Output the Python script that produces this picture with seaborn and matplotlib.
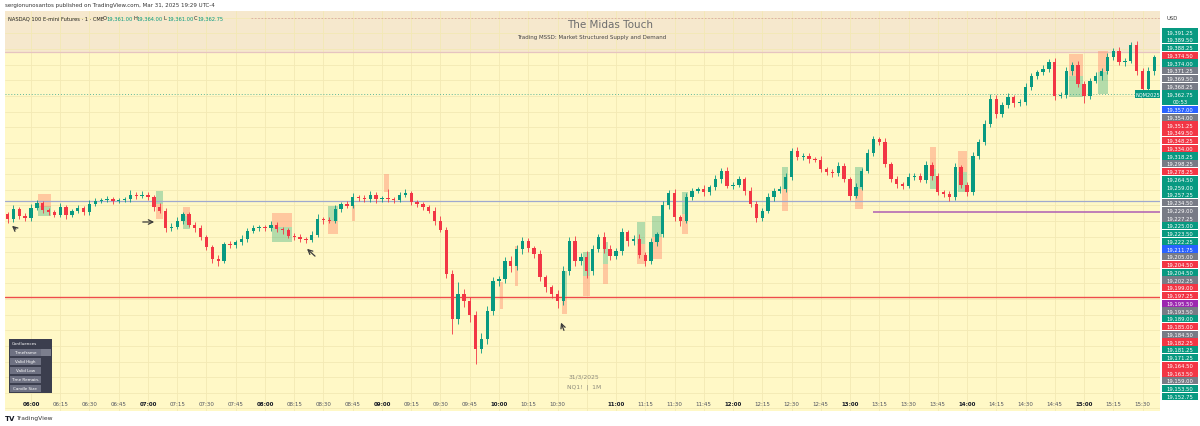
"""
    NQ1! 1-minute session chart (The Midas Touch / MSSD) redrawn with
    seaborn + matplotlib. Candles are resampled to 3-minute bars.
"""

#===== LIBRARIES =====================================
import numpy as np
import pandas as pd
import matplotlib
matplotlib.use("Agg")
from matplotlib import pyplot as plt
from matplotlib.patches import Rectangle
import seaborn as sns

#===== DATA ==========================================
# bar times in minutes relative to 06:00, 3-minute bars from 05:48
start_min = -12
step_min = 3
first_open = 19268.0

closes = [
    19264.0, 19272.0, 19266.5, 19264.75, 19272.75, 19276.75, 19271.25, 19269.5, 19267.25, 19273.5,
    19267.25, 19270.5, 19272.75, 19269.5, 19276.0, 19278.5, 19279.25, 19280.0, 19278.5, 19279.25,
    19280.0, 19283.25, 19282.5, 19283.25, 19281.5, 19273.5, 19270.5, 19256.75, 19258.0, 19262.5,
    19268.0, 19259.25, 19256.75, 19249.5, 19241.5, 19232.0, 19230.5, 19244.0, 19243.0, 19245.5,
    19248.0, 19254.5, 19256.75, 19257.5, 19256.75, 19259.25, 19256.0, 19255.25, 19250.5, 19249.5,
    19248.0, 19247.25, 19251.25, 19264.0, 19263.25, 19262.5, 19272.0, 19276.0, 19274.5, 19281.5,
    19280.75, 19280.0, 19283.25, 19280.0, 19280.75, 19280.0, 19279.25, 19283.25, 19284.75, 19277.5,
    19276.0, 19273.5, 19270.5, 19262.5, 19255.25, 19220.0, 19184.0, 19204.0, 19198.5, 19187.25,
    19160.0, 19168.0, 19190.5, 19214.5, 19216.0, 19230.5, 19226.5, 19240.0, 19246.5, 19240.75,
    19236.0, 19217.5, 19209.5, 19204.0, 19198.5, 19222.5, 19246.5, 19230.5, 19233.5, 19222.5,
    19240.0, 19249.5, 19240.0, 19234.5, 19238.5, 19253.5, 19246.5, 19248.0, 19235.25, 19230.5,
    19245.5, 19252.0, 19275.25, 19284.75, 19265.5, 19262.5, 19281.5, 19286.5, 19288.0, 19285.5,
    19289.5, 19296.0, 19302.5, 19290.5, 19291.25, 19296.0, 19286.5, 19276.0, 19264.75, 19270.5,
    19281.5, 19286.5, 19288.0, 19297.5, 19318.5, 19313.5, 19314.5, 19312.0, 19311.25, 19304.0,
    19301.5, 19300.75, 19306.5, 19296.0, 19282.5, 19289.5, 19302.5, 19316.75, 19328.0, 19325.5,
    19308.0, 19296.0, 19292.0, 19290.5, 19297.5, 19298.5, 19295.25, 19307.25, 19298.5, 19285.5,
    19284.0, 19281.5, 19305.5, 19291.25, 19285.5, 19314.5, 19325.5, 19340.0, 19360.0, 19348.0,
    19355.25, 19361.5, 19356.75, 19357.5, 19369.5, 19378.5, 19381.5, 19384.0, 19389.5, 19362.5,
    19363.25, 19382.5, 19387.25, 19372.0, 19362.5, 19374.5, 19378.5, 19382.5, 19393.5, 19398.5,
    19389.5, 19390.5, 19403.25, 19382.5, 19368.0, 19382.5, 19393.5,
]
upper_wicks = [
    2, 3, 1.5, 2, 3, 2.5, 2, 1.5, 2, 3,
    2, 1.5, 2.5, 2, 3, 2, 1.5, 2.5, 2, 1.5,
    2, 4, 2, 3, 2, 1.5, 3, 2, 2.5, 3,
    2, 1.5, 2, 2.5, 1.5, 2, 3, 2, 2.5, 2,
    3, 2, 2.5, 2, 1.5, 3, 2, 2, 1.5, 2,
    2.5, 2, 3, 4, 2, 2.5, 3, 2, 2.5, 3,
    2, 2.5, 3, 2, 2, 7, 2, 2.5, 3, 2,
    1.5, 2, 2, 3, 4, 2.5, 3, 10, 4, 3,
    3, 5, 4, 3, 2.5, 3, 4, 3, 3, 2.5,
    2, 3, 2, 2, 3, 4, 3, 4, 3, 5,
    3, 2.5, 4, 3, 2.5, 3, 2, 3, 4, 2.5,
    3, 2, 3, 2.5, 3, 2, 3, 2.5, 2, 3,
    2, 3, 2.5, 3, 2, 2.5, 2, 3, 2.5, 2,
    3, 2, 2.5, 3, 2, 3, 2.5, 2, 2, 3,
    2, 2.5, 3, 2, 2, 3, 2.5, 3, 2.5, 2,
    3, 2, 2.5, 2, 3, 2, 2.5, 3, 2, 2.5,
    2, 2.5, 3, 2, 2, 3, 2.5, 3, 4, 3,
    2.5, 3, 2, 2.5, 3, 2.5, 2, 3, 2.5, 3,
    2.5, 3, 2, 3, 2.5, 2, 3, 2.5, 3, 2.5,
    3, 2.5, 2, 3, 2.5, 3, 2,
]
lower_wicks = [
    3, 2, 2.5, 2, 2, 1.5, 2.5, 2, 2, 2,
    3, 2, 1.5, 2.5, 2, 1.5, 2, 2, 2.5, 2,
    1.5, 2, 2.5, 2, 2, 3, 2, 3, 2.5, 2,
    2.5, 2, 3, 2, 2.5, 3, 4, 2, 2.5, 2,
    2, 2.5, 2, 2, 2.5, 2, 2, 3, 2, 2.5,
    2, 2.5, 2, 2, 3, 2, 2, 2.5, 2, 2,
    2.5, 2, 2, 3, 2, 2, 2.5, 2, 2, 2.5,
    2, 2.5, 2, 3, 2, 3, 12, 4, 5, 6,
    12, 3, 4, 3, 4, 3, 5, 3, 4, 3,
    3, 3, 4, 3, 6, 3, 3, 4, 3, 6,
    3, 2.5, 3, 3, 2.5, 3, 4, 3, 2.5, 4,
    2.5, 3, 2, 3, 3, 4, 2, 2.5, 2, 3,
    2.5, 2, 3, 2, 2.5, 2, 3, 2.5, 3, 2,
    2, 3, 2, 2.5, 2, 2.5, 2, 3, 2, 2.5,
    2, 3, 2.5, 2, 3, 2, 2.5, 2, 2.5, 2,
    2.5, 2, 3, 2.5, 2, 2.5, 2, 2.5, 3, 2,
    2.5, 3, 2, 2.5, 3, 2, 2.5, 2, 2.5, 3,
    2, 2.5, 3, 2, 2.5, 2, 2.5, 2, 2.5, 3,
    2, 2.5, 3, 2, 6, 2.5, 2, 3, 2.5, 2,
    2.5, 3, 2, 3, 4, 2.5, 3,
]

# supply / demand zones: (start min, end min, low, high)
green_zones = [
    (3.6, 10.3, 19266.4, 19274.4), (64.1, 67.7, 19276.0, 19286.4), (77.9, 81.5, 19256.0, 19266.4),
    (123.6, 133.8, 19245.6, 19257.6), (152.3, 157.4, 19262.4, 19274.4), (272.3, 274.9, 19202.4, 19222.4),
    (283.0, 286.7, 19218.4, 19237.6), (293.3, 295.9, 19228.0, 19245.6), (310.8, 314.9, 19244.0, 19261.6),
    (318.5, 323.6, 19249.6, 19266.4), (333.8, 336.9, 19268.0, 19285.6), (385.1, 388.2, 19288.0, 19305.6),
    (422.6, 426.7, 19288.0, 19305.6), (461.0, 464.1, 19288.0, 19304.0), (475.4, 480.0, 19285.6, 19301.6),
    (532.3, 539.5, 19361.6, 19378.4), (547.2, 552.3, 19364.0, 19381.6),
]
red_zones = [
    (3.6, 10.3, 19273.6, 19284.0), (64.1, 67.7, 19264.0, 19276.0), (77.9, 81.5, 19266.4, 19273.6),
    (123.6, 133.8, 19257.6, 19268.8), (152.3, 157.4, 19252.0, 19262.4), (164.6, 166.2, 19262.4, 19275.0),
    (181.0, 183.6, 19285.6, 19300.0), (240.5, 242.0, 19192.0, 19213.6), (248.2, 249.7, 19210.4, 19242.4),
    (272.3, 274.9, 19188.0, 19202.4), (283.0, 286.7, 19202.4, 19218.4), (293.3, 295.9, 19212.0, 19228.0),
    (310.8, 314.9, 19228.0, 19244.0), (318.5, 323.6, 19232.0, 19249.6), (333.8, 336.9, 19252.0, 19268.0),
    (385.1, 388.2, 19270.4, 19288.0), (422.6, 426.7, 19272.0, 19288.0), (461.0, 464.1, 19304.0, 19321.6),
    (475.4, 480.0, 19301.6, 19318.4), (532.3, 539.5, 19378.4, 19396.0), (547.2, 552.3, 19381.6, 19398.4),
]

# horizontal levels
level_blue = 19278.4
level_red = 19201.6
level_purple = 19269.6
purple_from = 431.8
band_low = 19397.6
last_price = 19364.0
header_level = 19424.8

# hand drawn arrows: (tail t, tail p, head t, head p)
arrows = [
    (-6.7, 19254.4, -10.8, 19260.0),
    (55.9, 19261.6, 64.6, 19261.6),
    (146.7, 19232.8, 140.5, 19241.6),
    (273.8, 19172.8, 271.3, 19183.2),
]

# time axis
tick_mins = [0, 15, 30, 45, 60, 75, 90, 105, 120, 135, 150, 165, 180, 195, 210, 225, 240, 255, 270,
             300, 315, 330, 345, 360, 375, 390, 405, 420, 435, 450, 465, 480, 495, 510, 525, 540, 555, 570]
tick_labels = ["06:00", "06:15", "06:30", "06:45", "07:00", "07:15", "07:30", "07:45", "08:00", "08:15",
               "08:30", "08:45", "09:00", "09:15", "09:30", "09:45", "10:00", "10:15", "10:30",
               "11:00", "11:15", "11:30", "11:45", "12:00", "12:15", "12:30", "12:45", "13:00", "13:15",
               "13:30", "13:45", "14:00", "14:15", "14:30", "14:45", "15:00", "15:15", "15:30"]

# stacked price scale tags
tag_values = ["19,391.25", "19,389.50", "19,388.25", "19,374.50", "19,374.00", "19,371.25", "19,369.50",
              "19,368.25", "19,362.75", "19,357.00", "19,354.00", "19,351.25", "19,349.50", "19,348.25",
              "19,334.00", "19,318.25", "19,298.25", "19,278.25", "19,264.50", "19,259.00", "19,257.25",
              "19,234.50", "19,229.00", "19,227.25", "19,225.00", "19,223.50", "19,222.25", "19,211.75",
              "19,205.00", "19,204.50", "19,204.50", "19,202.25", "19,199.00", "19,197.25", "19,195.50",
              "19,193.50", "19,189.00", "19,185.00", "19,184.50", "19,182.25", "19,181.25", "19,171.25",
              "19,164.50", "19,163.50", "19,159.00", "19,153.50", "19,152.75"]
tag_kinds = "gggrgkkkgbkrrrrgkrgggkkkgggbkrgkrrpkgrkrggrrkgg"
current_tag = 8

table_rows = ["Confluences", "Timeframe", "Valid High", "Valid Low", "Time Remain.", "Candle Size"]

#===== STYLE =========================================
sns.set_theme(style="white")
plt.rcParams["font.family"] = ["DejaVu Sans"]

GREEN = "#089981"
RED = "#f23645"
TAG_COLORS = {"g": GREEN, "r": RED, "k": "#787b86", "b": "#2962ff", "p": "#9c27b0"}

W, H = 1200, 427


def fx(px):
    return px / W


def fy(py):
    return 1 - py / H


#===== FIGURE ========================================
fig = plt.figure(figsize=(12, 4.27), dpi=100)
fig.patch.set_facecolor("white")
ax = fig.add_axes([fx(5), fy(412), fx(1160) - fx(5), fy(12) - fy(412)])
ax.set_facecolor("#fff8c6")
ax.set_xlim(-13.33, 578.97)
ax.set_ylim(19110.4, 19430.4)

# grid
ax.set_xticks(np.arange(0, 580, 15))
ax.set_yticks(np.arange(19112.5, 19430, 12.5))
ax.grid(True, color="#f3e9b4", lw=0.6)
ax.tick_params(left=False, bottom=False, labelleft=False, labelbottom=False)
for s in ax.spines.values():
    s.set_visible(False)

# header band
ax.axhspan(band_low, 19430.4, color="#f6e8cd", zorder=0.5, lw=0)
ax.axhline(band_low, color="#e6c4c0", lw=0.9, zorder=1)

# candles
df = pd.DataFrame({"close": closes, "uw": upper_wicks, "lw": lower_wicks})
df["t"] = start_min + step_min * np.arange(len(df))
df["open"] = df["close"].shift(1).fillna(first_open)
df["top"] = df[["open", "close"]].max(axis=1)
df["bot"] = df[["open", "close"]].min(axis=1)
df["high"] = df["top"] + df["uw"]
df["low"] = df["bot"] - df["lw"]
df["color"] = np.where(df["close"] >= df["open"], GREEN, RED)

# zones sit under the candles
for t0, t1, lo, hi_ in green_zones:
    ax.add_patch(Rectangle((t0, lo), t1 - t0, hi_ - lo, facecolor="#2aa876", alpha=0.35, lw=0, zorder=2))
for t0, t1, lo, hi_ in red_zones:
    ax.add_patch(Rectangle((t0, lo), t1 - t0, hi_ - lo, facecolor="#ff9a7a", alpha=0.5, lw=0, zorder=2))

ax.vlines(df["t"], df["low"], df["high"], colors=df["color"], lw=0.6, zorder=3)
ax.bar(df["t"], (df["top"] - df["bot"]).clip(lower=0.8), bottom=df["bot"], width=1.7,
       color=df["color"], lw=0, zorder=4)

# levels
ax.axhline(level_blue, color="#9fa9cf", lw=0.9, zorder=2.5)
ax.axhline(level_red, color="#ee4b4b", lw=1.0, zorder=2.5)
ax.hlines(level_purple, purple_from, 578.97, color="#b46bb4", lw=1.2, zorder=2.5)
ax.axhline(last_price, color="#5fb89a", lw=0.7, ls=(0, (1, 2)), zorder=2.5)
ax.hlines(header_level, 113, 578.97, color="#d8a6a6", lw=0.6, ls=(0, (2, 2)), zorder=1)

# arrows
for t0, p0, t1, p1 in arrows:
    ax.annotate("", xy=(t1, p1), xytext=(t0, p0),
                arrowprops=dict(arrowstyle="->", color="#3a3a3a", lw=0.9, mutation_scale=8), zorder=6)

# time labels
for m, lab in zip(tick_mins, tick_labels):
    bold = lab.endswith(":00")
    ax.text(m, 0.018, lab, transform=ax.get_xaxis_transform(), ha="center", va="center",
            fontsize=4, color="#131722" if bold else "#50535e", fontweight="bold" if bold else "normal")

# chart texts
fig.text(fx(5), fy(5), "sergionunosantos published on TradingView.com, Mar 31, 2025 19:29 UTC-4",
         fontsize=4, color="#333333", va="center", ha="left")
fig.text(fx(8), fy(19), "NASDAQ 100 E-mini Futures · 1 · CME", fontsize=3.7, color="#222222", va="center")
for px, s, c in [(103, "O", "#222222"), (106, "19,361.00", GREEN), (133, "H", "#222222"),
                 (136, "19,364.00", GREEN), (164, "L", "#222222"), (167, "19,361.00", GREEN),
                 (194, "C", "#222222"), (197, "19,362.75", GREEN)]:
    fig.text(fx(px), fy(19), s, fontsize=3.7, color=c, va="center")
fig.text(fx(610), fy(25), "The Midas Touch", fontsize=7.5, color="#6d6d6d", ha="center", va="center")
fig.text(fx(592), fy(38), "Trading MSSD: Market Structured Supply and Demand", fontsize=4,
         color="#444444", ha="center", va="center")
fig.text(fx(584), fy(377), "31/3/2025", fontsize=4.3, color="#8c8a7c", ha="center", va="center")
fig.text(fx(584), fy(387), "NQ1!  |  1M", fontsize=4.3, color="#8c8a7c", ha="center", va="center")
fig.text(fx(5), fy(419), "TV", fontsize=5, color="#131722", fontweight="bold", va="center")
fig.text(fx(16), fy(419), "TradingView", fontsize=4.3, color="#333333", va="center")

# NQM2025 tag on last price line
fig.add_artist(Rectangle((fx(1135), fy(99)), fx(25), fy(91) - fy(99), transform=fig.transFigure,
                         facecolor=GREEN, lw=0))
fig.text(fx(1147.5), fy(95), "NQM2025", fontsize=3.6, color="white", ha="center", va="center")

# price scale tags
fig.text(fx(1172), fy(19), "USD", fontsize=3.8, color="#333333", ha="center", va="center")
slot = 0
for i, (val, kind) in enumerate(zip(tag_values, tag_kinds)):
    yc = 33 + 7.75 * slot
    h = 7.3
    if i == current_tag:
        h = 7.3 + 7.75
        yc = yc + 7.75 / 2
    fig.add_artist(Rectangle((fx(1162), fy(yc + h / 2)), fx(36), fy(yc - h / 2) - fy(yc + h / 2),
                             transform=fig.transFigure, facecolor=TAG_COLORS[kind], lw=0))
    if i == current_tag:
        fig.text(fx(1180), fy(yc - 3.9), val, fontsize=3.8, color="white", ha="center", va="center")
        fig.text(fx(1180), fy(yc + 3.9), "00:53", fontsize=3.8, color="white", ha="center", va="center")
        slot += 2
    else:
        fig.text(fx(1180), fy(yc), val, fontsize=3.8, color="white", ha="center", va="center")
        slot += 1

# confluences table
fig.add_artist(Rectangle((fx(9), fy(394)), fx(43), fy(340) - fy(394), transform=fig.transFigure,
                         facecolor="#3b3e4e", lw=0))
for j, lab in enumerate(table_rows):
    y0 = 340 + 9 * j
    if j == 0:
        fig.text(fx(12), fy(y0 + 4), lab, fontsize=3, color="white", va="center")
        continue
    fig.add_artist(Rectangle((fx(10), fy(y0 + 8.3)), fx(30.5), fy(y0 + 0.7) - fy(y0 + 8.3),
                             transform=fig.transFigure, facecolor="#6e7182", lw=0))
    if j == 1:
        fig.add_artist(Rectangle((fx(41.2), fy(y0 + 8.3)), fx(10), fy(y0 + 0.7) - fy(y0 + 8.3),
                                 transform=fig.transFigure, facecolor="#7c7f8e", lw=0))
    fig.text(fx(25.2), fy(y0 + 4.5), lab, fontsize=3, color="white", ha="center", va="center")

fig.savefig("out.png", dpi=100, facecolor="white")
